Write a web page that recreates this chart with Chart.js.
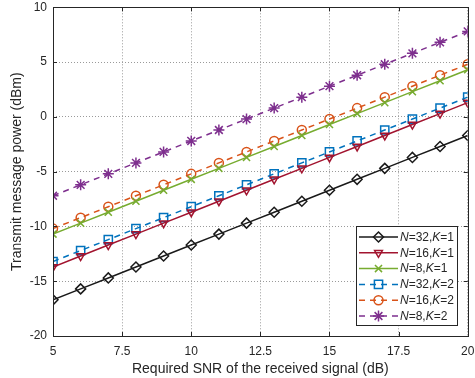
<!DOCTYPE html>
<html>
<head>
<meta charset="utf-8">
<script src="https://cdn.jsdelivr.net/npm/chart.js@4"></script>
<style>
  html, body { margin: 0; padding: 0; background: #fff; }
  #wrap { width: 475px; height: 378px; }
</style>
</head>
<body>
<div id="wrap"><canvas id="snrChart" width="475" height="378"></canvas></div>
<script>
// Transmit power vs required SNR

const snrDb = [5, 6, 7, 8, 9, 10, 11, 12, 13, 14, 15, 16, 17, 18, 19, 20];

const powerN32K1 = [-16.7, -15.7, -14.7, -13.7, -12.7, -11.7, -10.7, -9.7, -8.7, -7.7, -6.7, -5.7, -4.7, -3.7, -2.7, -1.7];
const powerN16K1 = [-13.7, -12.7, -11.7, -10.7, -9.7, -8.7, -7.7, -6.7, -5.7, -4.7, -3.7, -2.7, -1.7, -0.7, 0.3, 1.3];
const powerN8K1  = [-10.7, -9.7, -8.7, -7.7, -6.7, -5.7, -4.7, -3.7, -2.7, -1.7, -0.7, 0.3, 1.3, 2.3, 3.3, 4.3];
const powerN32K2 = [-13.2, -12.2, -11.2, -10.2, -9.2, -8.2, -7.2, -6.2, -5.2, -4.2, -3.2, -2.2, -1.2, -0.2, 0.8, 1.8];
const powerN16K2 = [-10.2, -9.2, -8.2, -7.2, -6.2, -5.2, -4.2, -3.2, -2.2, -1.2, -0.2, 0.8, 1.8, 2.8, 3.8, 4.8];
const powerN8K2  = [-7.2, -6.2, -5.2, -4.2, -3.2, -2.2, -1.2, -0.2, 0.8, 1.8, 2.8, 3.8, 4.8, 5.8, 6.8, 7.8];

const xTicks = [5, 7.5, 10, 12.5, 15, 17.5, 20];
const yTicks = [-20, -15, -10, -5, 0, 5, 10];

const legendNs = ['32', '16', '8', '32', '16', '8'];
const legendKs = ['1', '1', '1', '2', '2', '2'];

const FONT = "'Liberation Sans', Arial, Helvetica, sans-serif";
const TXT = '#262626';

function series(data, color, style, radius, dashed, rotation) {
    return {
        data: snrDb.map((x, i) => ({ x: x, y: data[i] })),
        borderColor: color,
        backgroundColor: 'transparent',
        borderWidth: 1.5,
        borderDash: dashed ? [6, 5] : [],
        pointStyle: style,
        pointRadius: radius,
        pointRotation: rotation || 0,
        pointBorderColor: color,
        pointBackgroundColor: 'transparent',
        pointBorderWidth: 1.5,
        tension: 0
    };
}

const datasets = [
    series(powerN32K1, '#1a1a1a', 'rectRot', 5, false),
    series(powerN16K1, '#a2142f', 'triangle', 4.5, false, 180),
    series(powerN8K1, '#77ac30', 'crossRot', 5, false),
    series(powerN32K2, '#0072bd', 'rect', 5.8, true),
    series(powerN16K2, '#d95319', 'circle', 4.5, true),
    series(powerN8K2, '#7e2f8e', 'star', 5.5, true)
];

// box, inward ticks and legend, MATLAB style
const boxPlugin = {
    id: 'boxPlugin',
    afterDatasetsDraw(chart) {
        const ctx = chart.ctx;
        const a = chart.chartArea;
        const xs = chart.scales.x, ys = chart.scales.y;
        ctx.save();
        ctx.strokeStyle = TXT;
        ctx.lineWidth = 1;
        ctx.setLineDash([]);
        ctx.beginPath();
        xTicks.forEach(v => {
            const px = Math.round(xs.getPixelForValue(v)) + 0.5;
            ctx.moveTo(px, a.bottom); ctx.lineTo(px, a.bottom - 4);
            ctx.moveTo(px, a.top); ctx.lineTo(px, a.top + 4);
        });
        yTicks.forEach(v => {
            const py = Math.round(ys.getPixelForValue(v)) + 0.5;
            ctx.moveTo(a.left, py); ctx.lineTo(a.left + 4, py);
            ctx.moveTo(a.right, py); ctx.lineTo(a.right - 4, py);
        });
        ctx.stroke();
        ctx.strokeRect(Math.round(a.left) + 0.5, Math.round(a.top) + 0.5,
            Math.round(a.right - a.left), Math.round(a.bottom - a.top));

        // legend
        const lx = 356.5, ly = 226.5, lw = 101, lh = 99;
        ctx.fillStyle = '#fff';
        ctx.fillRect(lx, ly, lw, lh);
        ctx.strokeStyle = TXT;
        ctx.strokeRect(lx, ly, lw, lh);
        datasets.forEach((ds, i) => {
            const y = 237 + i * 15.8;
            ctx.save();
            ctx.strokeStyle = ds.borderColor;
            ctx.fillStyle = 'rgba(0,0,0,0)';
            ctx.lineWidth = 1.5;
            ctx.setLineDash(ds.borderDash);
            ctx.beginPath();
            ctx.moveTo(359, y); ctx.lineTo(398, y);
            ctx.stroke();
            ctx.setLineDash([]);
            Chart.helpers.drawPoint(ctx, {
                pointStyle: ds.pointStyle,
                radius: ds.pointRadius,
                rotation: ds.pointRotation,
                borderWidth: 1.5
            }, 378.5, y);
            ctx.restore();

            let tx = 400;
            const parts = [
                ['N', true], ['=' + legendNs[i] + ',', false],
                ['K', true], ['=' + legendKs[i], false]
            ];
            ctx.fillStyle = TXT;
            ctx.textBaseline = 'middle';
            parts.forEach(p => {
                ctx.font = (p[1] ? 'italic ' : '') + '12px ' + FONT;
                ctx.fillText(p[0], tx, y + 0.5);
                tx += ctx.measureText(p[0]).width;
            });
        });
        ctx.restore();
    }
};

new Chart(document.getElementById('snrChart'), {
    type: 'line',
    data: { datasets: datasets },
    plugins: [boxPlugin],
    options: {
        responsive: false,
        animation: false,
        events: [],
        layout: { padding: { top: 7, right: 7, left: 0, bottom: 0 } },
        plugins: {
            legend: { display: false },
            tooltip: { enabled: false }
        },
        scales: {
            x: {
                type: 'linear',
                min: 5,
                max: 20,
                afterBuildTicks: s => { s.ticks = xTicks.map(v => ({ value: v })); },
                afterFit: s => { s.height = 42; s.paddingLeft = 0; s.paddingRight = 0; },
                ticks: {
                    color: TXT,
                    font: { family: FONT, size: 12 },
                    padding: 8,
                    maxRotation: 0,
                    callback: v => String(v)
                },
                grid: { color: '#9a9a9a', lineWidth: 1, drawTicks: false },
                border: { display: false, dash: [1, 2] },
                title: {
                    display: true,
                    text: 'Required SNR of the received signal (dB)',
                    color: TXT,
                    font: { family: FONT, size: 14 },
                    padding: { top: 0, bottom: 0 }
                }
            },
            y: {
                min: -20,
                max: 10,
                afterBuildTicks: s => { s.ticks = yTicks.map(v => ({ value: v })); },
                afterFit: s => { s.width = 53; s.paddingTop = 0; s.paddingBottom = 0; },
                ticks: {
                    color: TXT,
                    font: { family: FONT, size: 12 },
                    padding: 6,
                    callback: v => String(v)
                },
                grid: { color: '#9a9a9a', lineWidth: 1, drawTicks: false },
                border: { display: false, dash: [1, 2] },
                title: {
                    display: true,
                    text: 'Transmit message power (dBm)',
                    color: TXT,
                    font: { family: FONT, size: 14 },
                    padding: { top: 9, bottom: 0 }
                }
            }
        }
    }
});
</script>
</body>
</html>
